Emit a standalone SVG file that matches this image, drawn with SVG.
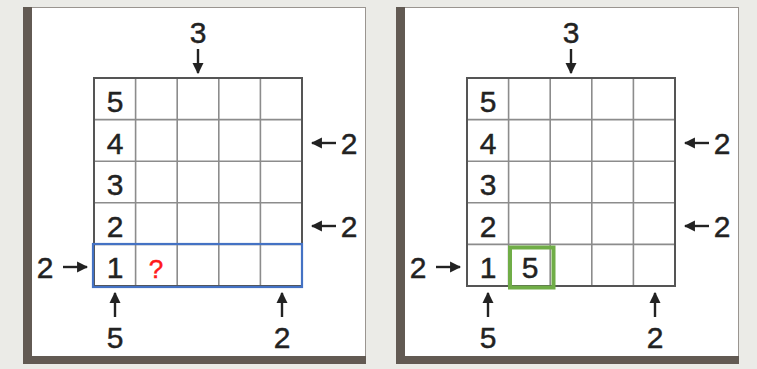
<svg xmlns="http://www.w3.org/2000/svg" width="757" height="369" viewBox="0 0 757 369">
<style>
.bg{fill:#ebebe7}
.panel{fill:#ffffff;stroke:#9a9590;stroke-width:1}
.bar{fill:#625a53}
.inner{stroke:#8c8c8c;stroke-width:1.6;fill:none}
.outer{stroke:#555555;stroke-width:2;fill:none}
.d{font-family:"Liberation Sans",Arial,sans-serif;font-size:30px;fill:#222222;stroke:#222222;stroke-width:0.45;text-anchor:middle}
.q{font-family:"Liberation Sans",Arial,sans-serif;font-size:26px;fill:#ff1a1a;stroke:#ff1a1a;stroke-width:0.5;text-anchor:middle}
.arr{stroke:#222222;stroke-width:2.4;marker-end:url(#ah)}
</style>
<defs>
<marker id="ah" viewBox="0 0 10 10" refX="9" refY="5" markerWidth="4.6" markerHeight="4.6" orient="auto" markerUnits="strokeWidth">
<path d="M0,0 L10,5 L0,10 z" fill="#222222"/>
</marker>
<g id="puzzle">
<g id="grid">
<path class="inner" d="M135.6,78V286M177.2,78V286M218.8,78V286M260.4,78V286M94,119.6H302M94,161.2H302M94,202.8H302M94,244.4H302"/>
<rect class="outer" x="94" y="78" width="208" height="208"/>
</g>
<g id="givens">
<text class="d" x="115" y="112">5</text>
<text class="d" x="115" y="154">4</text>
<text class="d" x="115" y="195">3</text>
<text class="d" x="115" y="237">2</text>
<text class="d" x="115" y="278">1</text>
</g>
<g id="connectors">
<line class="arr" x1="198" y1="49" x2="198" y2="73"/>
<line class="arr" x1="336" y1="143" x2="312" y2="143"/>
<line class="arr" x1="336" y1="226" x2="312" y2="226"/>
<line class="arr" x1="63" y1="267" x2="87" y2="267"/>
<line class="arr" x1="115" y1="317" x2="115" y2="293"/>
<line class="arr" x1="282" y1="317" x2="282" y2="293"/>
</g>
<g id="clues">
<text class="d" x="198" y="43">3</text>
<text class="d" x="349" y="154">2</text>
<text class="d" x="349" y="237">2</text>
<text class="d" x="45" y="278">2</text>
<text class="d" x="115" y="348">5</text>
<text class="d" x="282" y="348">2</text>
</g>
</g>
</defs>
<rect class="bg" x="0" y="0" width="757" height="369"/>
<g id="panel-left">
<rect class="panel" x="23.5" y="7.5" width="342" height="356"/>
<rect class="bar" x="23" y="7" width="9" height="357"/>
<rect class="bar" x="23" y="356" width="343" height="8"/>
<use href="#puzzle"/>
<g id="highlight-row">
<rect x="93" y="244" width="209" height="43" fill="none" stroke="#4472c4" stroke-width="2.2"/>
<text class="q" x="156" y="278">?</text>
</g>
</g>
<g id="panel-right">
<rect class="panel" x="396.5" y="7.5" width="342" height="356"/>
<rect class="bar" x="396" y="7" width="9" height="357"/>
<rect class="bar" x="396" y="356" width="343" height="8"/>
<use href="#puzzle" x="373"/>
<g id="highlight-cell">
<rect x="510" y="247.5" width="43.5" height="40" fill="none" stroke="#70ad47" stroke-width="4"/>
<text class="d" x="530" y="278">5</text>
</g>
</g>
</svg>
